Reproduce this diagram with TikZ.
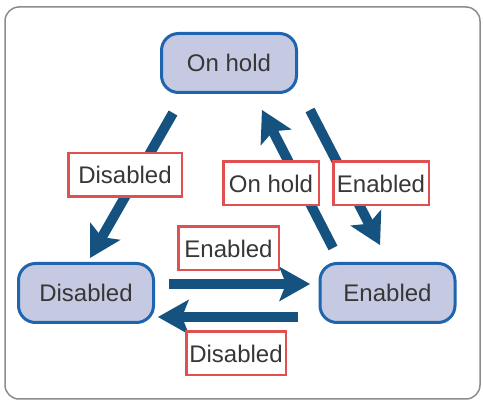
\documentclass[tikz,border=0pt]{standalone}
\usepackage{fontspec}
\setmainfont{Liberation Sans}
\usetikzlibrary{arrows.meta}
\definecolor{statefill}{RGB}{197,202,226}
\definecolor{stateline}{RGB}{30,100,175}
\definecolor{arrowblue}{RGB}{21,82,128}
\definecolor{labelred}{RGB}{224,80,80}
\definecolor{textgray}{RGB}{55,55,55}
\definecolor{framegray}{RGB}{140,140,140}

\begin{document}
\begin{tikzpicture}[x=1pt,y=1pt,
  state/.style={draw=stateline,fill=statefill,line width=3pt,rounded corners=17pt,minimum width=135pt,minimum height=59pt,inner sep=0pt,text=textgray,font=\fontsize{24}{26}\selectfont},
  lbl/.style={draw=labelred,fill=white,line width=2.5pt,minimum height=43.5pt,inner sep=0pt,text=textgray,font=\fontsize{24}{26}\selectfont},
  trans/.style={draw=arrowblue,line width=10pt,-{Stealth[length=31pt,width=35pt,inset=7pt,line width=0pt]}}]
\useasboundingbox (0,0) rectangle (483,-401);
\draw [framegray,line width=1.5pt,rounded corners=14pt] (5,-7) rectangle (480,-399);
\node [state] (oh) at (229,-63) {On hold};
\node [state] (dis) at (86,-293) {Disabled};
\node [state] (en) at (387.5,-293) {Enabled};
\draw [trans] ([shift={(-56,-50)}]oh.center) -- ([shift={(4,35)}]dis.center);
\draw [trans] ([shift={(-54.5,45)}]en.center) -- ([shift={(33,-47)}]oh.center);
\draw [trans] ([shift={(81,-47)}]oh.center) -- ([shift={(-7.5,48)}]en.center);
\draw [trans] ([shift={(83,9)}]dis.center) -- ([shift={(-77.5,9)}]en.center);
\draw [trans] ([shift={(-89.5,-24)}]en.center) -- ([shift={(72,-24)}]dis.center);
\node [lbl,minimum width=113.5pt] (ldis) at (125,-175) {Disabled};
\node [lbl,minimum width=95.5pt] (loh) at (271,-183.5) {On hold};
\node [lbl,minimum width=95.5pt] (len) at (381,-183.5) {Enabled};
\node [lbl,minimum width=100.5pt] (lenb) at (228.5,-248.5) {Enabled};
\node [lbl,minimum width=99.5pt] (ldisb) at (236,-353.5) {Disabled};
\end{tikzpicture}
\end{document}
